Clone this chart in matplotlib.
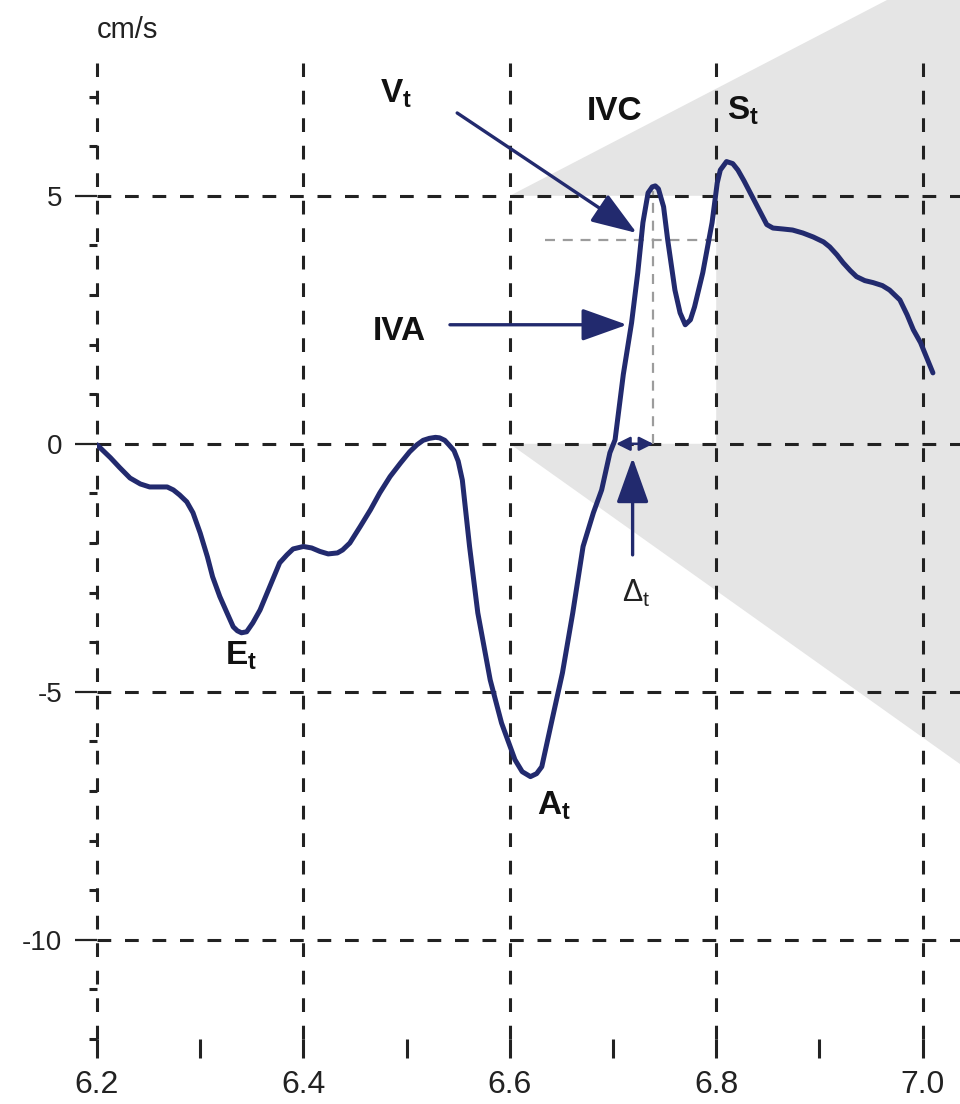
import matplotlib
matplotlib.use("Agg")
import matplotlib.pyplot as plt
from matplotlib.patches import Polygon
from matplotlib.ticker import FixedLocator, FixedFormatter, MultipleLocator

plt.rcParams['font.family'] = ['Liberation Sans', 'DejaVu Sans']
plt.rcParams['mathtext.fontset'] = 'custom'
plt.rcParams['mathtext.rm'] = 'Liberation Sans'
plt.rcParams['mathtext.bf'] = 'Liberation Sans:bold'
plt.rcParams['mathtext.it'] = 'Liberation Sans:italic'

# Tissue Doppler velocity trace (time in s, velocity in cm/s)
time_s = [6.200, 6.213, 6.222, 6.232, 6.242, 6.251, 6.259, 6.268, 6.274, 6.280,
          6.287, 6.293, 6.300, 6.307, 6.312, 6.319, 6.326, 6.332, 6.336, 6.340,
          6.345, 6.351, 6.358, 6.365, 6.371, 6.377, 6.384, 6.390, 6.400, 6.408,
          6.416, 6.424, 6.433, 6.438, 6.445, 6.455, 6.465, 6.474, 6.484, 6.494,
          6.503, 6.510, 6.516, 6.522, 6.528, 6.532, 6.537, 6.541, 6.546, 6.550,
          6.554, 6.561, 6.569, 6.581, 6.592, 6.605, 6.612, 6.620, 6.626, 6.631,
          6.641, 6.651, 6.661, 6.671, 6.681, 6.689, 6.697, 6.702, 6.710, 6.718,
          6.724, 6.729, 6.734, 6.738, 6.741, 6.744, 6.749, 6.753, 6.760, 6.765,
          6.770, 6.775, 6.779, 6.787, 6.796, 6.801, 6.804, 6.810, 6.816, 6.821,
          6.827, 6.833, 6.840, 6.849, 6.855, 6.865, 6.874, 6.884, 6.894, 6.904,
          6.910, 6.917, 6.923, 6.930, 6.936, 6.944, 6.952, 6.961, 6.968, 6.973,
          6.978, 6.985, 6.991, 6.998, 7.010]
velocity = [-0.02, -0.28, -0.48, -0.69, -0.81, -0.87, -0.87, -0.87, -0.93, -1.03,
            -1.17, -1.39, -1.80, -2.28, -2.68, -3.08, -3.41, -3.69, -3.77, -3.81,
            -3.79, -3.61, -3.35, -3.00, -2.70, -2.40, -2.24, -2.12, -2.07, -2.10,
            -2.17, -2.22, -2.20, -2.14, -2.00, -1.67, -1.33, -0.99, -0.66, -0.39,
            -0.16, -0.02, 0.07, 0.11, 0.13, 0.12, 0.07, -0.02, -0.14, -0.35,
            -0.73, -2.07, -3.41, -4.76, -5.63, -6.37, -6.61, -6.71, -6.65, -6.51,
            -5.56, -4.62, -3.41, -2.07, -1.39, -0.93, -0.18, 0.08, 1.40, 2.44,
            3.45, 4.46, 5.06, 5.18, 5.20, 5.14, 4.78, 4.11, 3.10, 2.64,
            2.40, 2.50, 2.76, 3.45, 4.46, 5.26, 5.52, 5.69, 5.65, 5.52,
            5.30, 5.06, 4.78, 4.42, 4.35, 4.33, 4.31, 4.25, 4.17, 4.07,
            3.97, 3.81, 3.65, 3.49, 3.37, 3.29, 3.25, 3.19, 3.10, 3.00,
            2.90, 2.60, 2.30, 2.04, 1.43]

x_grid = [6.2, 6.4, 6.6, 6.8, 7.0]
x_labels = ['6.2', '6.4', '6.6', '6.8', '7.0']
x_minor = [6.3, 6.5, 6.7, 6.9]
y_grid = [5, 0, -5, -10]
y_labels = ['5', '0', '-5', '-10']

NAVY = '#222a6e'
DARK = '#222222'

fig = plt.figure(figsize=(9.6, 11.04), dpi=100)
ax = fig.add_axes([97 / 960, 65 / 1104, 863 / 960, 976 / 1104])
ax.set_xlim(6.2, 6.2 + 863 / 1032)
ax.set_ylim(-12, -12 + 976 / 49.6)
for s in ax.spines.values():
    s.set_visible(False)

# shaded wedge with a notch for the isovolumic window
wedge = Polygon([(6.6, 5), (7.25, 5 + 0.65 * 10.8), (7.25, -0.65 * 14.8),
                 (6.6, 0), (6.8, 0), (6.8, 5)],
                closed=True, facecolor='#e5e5e5', edgecolor='none',
                zorder=0, clip_on=False)
ax.add_patch(wedge)

grid_style = dict(color=DARK, lw=2.2, linestyle=(0, (4.5, 4.5)), zorder=1, clip_on=False)
for xv in x_grid:
    ax.axvline(xv, **grid_style)
for yv in y_grid:
    ax.axhline(yv, **grid_style)

# light guide lines
guide = dict(color='#9c9c9c', lw=1.6, linestyle=(0, (4.5, 3.5)), zorder=1.5)
ax.plot([6.634, 6.8], [4.11, 4.11], **guide)
ax.plot([6.739, 6.739], [0, 5.1], **guide)

ax.plot(time_s, velocity, color=NAVY, lw=3.6, solid_joinstyle='round',
        solid_capstyle='round', zorder=3)

# ticks
ax.xaxis.set_major_locator(FixedLocator(x_grid))
ax.xaxis.set_major_formatter(FixedFormatter(x_labels))
ax.xaxis.set_minor_locator(FixedLocator(x_minor))
ax.yaxis.set_major_locator(FixedLocator(y_grid))
ax.yaxis.set_major_formatter(FixedFormatter(y_labels))
ax.yaxis.set_minor_locator(MultipleLocator(1))
ax.tick_params(axis='x', which='both', direction='out', length=14, width=2.2,
               color=DARK, pad=8, labelsize=23, labelcolor='#222222')
ax.tick_params(axis='y', which='major', direction='out', length=16, width=1.6,
               color=DARK, pad=9, labelsize=20, labelcolor='#222222')
ax.tick_params(axis='y', which='minor', direction='out', length=6, width=2.2,
               color=DARK)

fig.text(127 / 960, 1 - 30 / 1104, 'cm/s', fontsize=21, ha='center', va='center',
         color='#222222')

# annotations
lab = dict(fontsize=24, color='#111111', ha='left', va='baseline', zorder=5)
ax.text(6.474, 6.875, r'$\mathbf{V}_{\mathbf{t}}$', **lab)
ax.text(6.675, 6.53, 'IVC', fontweight='bold', **lab)
ax.text(6.810, 6.53, r'$\mathbf{S}_{\mathbf{t}}$', **lab)
ax.text(6.467, 2.10, 'IVA', fontweight='bold', **lab)
ax.text(6.324, -4.46, r'$\mathbf{E}_{\mathbf{t}}$', **lab)
ax.text(6.626, -7.48, r'$\mathbf{A}_{\mathbf{t}}$', **lab)
ax.text(6.709, -3.19, r'$\Delta_{\mathrm{t}}$', fontsize=22, color='#222222',
        ha='left', va='baseline', zorder=5)

big = dict(arrowstyle='-|>,head_length=1.4,head_width=0.5', color=NAVY, lw=2.4,
           shrinkA=0, shrinkB=0, mutation_scale=20)
ax.annotate('', xy=(6.723, 4.25), xytext=(6.549, 6.67), arrowprops=big, zorder=4)
ax.annotate('', xy=(6.7136, 2.40), xytext=(6.542, 2.40), arrowprops=big, zorder=4)
ax.annotate('', xy=(6.719, -0.28), xytext=(6.719, -2.24), arrowprops=big, zorder=4)
small = dict(arrowstyle='<|-|>,head_length=0.6,head_width=0.3', color=NAVY, lw=1.8,
             shrinkA=0, shrinkB=0, mutation_scale=14)
ax.annotate('', xy=(6.739, 0), xytext=(6.703, 0), arrowprops=small, zorder=4)

fig.savefig('out.png', dpi=100)
